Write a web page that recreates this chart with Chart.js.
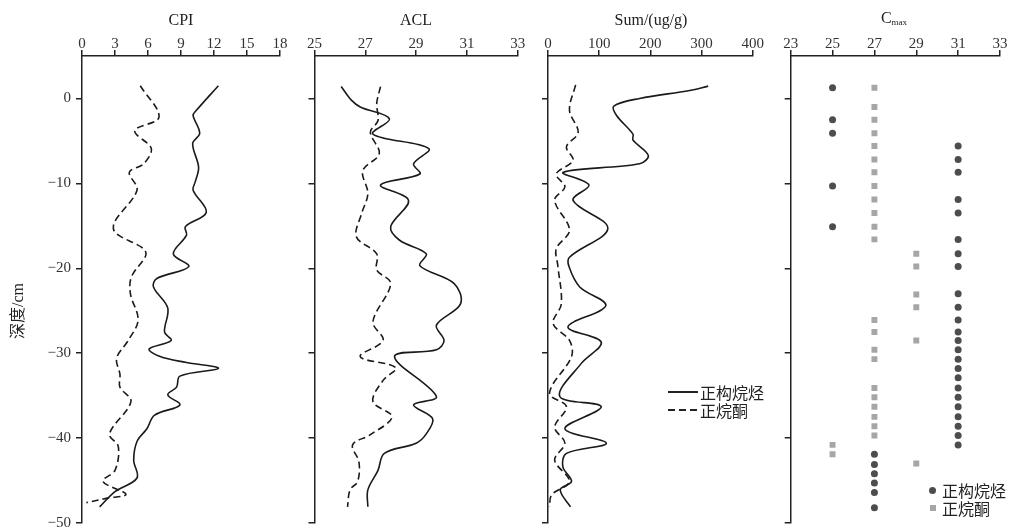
<!DOCTYPE html>
<html>
<head>
<meta charset="utf-8">
<script src="https://cdn.jsdelivr.net/npm/chart.js@4.4.0/dist/chart.umd.min.js"></script>
<style>
  body { margin:0; width:1010px; height:529px; overflow:hidden; background:#fff; position:relative;
         font-family:"Liberation Serif","Noto Sans CJK SC",serif; color:#222; }
  canvas { position:absolute; top:0; }
  .title { position:absolute; font-size:16px; line-height:18px; transform:translate(-50%,-50%); white-space:nowrap; }
  .lab { position:absolute; font-family:"Noto Sans CJK SC",sans-serif; font-size:16px; line-height:20px; white-space:nowrap; color:#222; }
  .key { position:absolute; }
</style>
</head>
<body>
<canvas id="c1" width="290" height="529" style="left:0"></canvas>
<canvas id="c2" width="240" height="529" style="left:290px"></canvas>
<canvas id="c3" width="240" height="529" style="left:530px"></canvas>
<canvas id="c4" width="240" height="529" style="left:770px"></canvas>

<div class="title" style="left:181px;top:20px">CPI</div>
<div class="title" style="left:416px;top:20px">ACL</div>
<div class="title" style="left:651px;top:20px">Sum/(ug/g)</div>
<div class="title" style="left:894px;top:20px">C<span style="font-size:9px;vertical-align:-2px">max</span></div>
<div class="title" style="left:18px;top:311px;transform:translate(-50%,-50%) rotate(-90deg)">深度/cm</div>

<!-- legend, panel 3 -->
<div class="key" style="left:668px;top:391px;width:30px;height:1.5px;background:#222"></div>
<div class="lab" style="left:700px;top:382px">正构烷烃</div>
<div class="key" style="left:668px;top:409px;width:30px;height:1.5px;background:repeating-linear-gradient(90deg,#222 0 7px,transparent 7px 11px)"></div>
<div class="lab" style="left:700px;top:400px">正烷酮</div>
<!-- legend, panel 4 -->
<div class="key" style="left:929px;top:486.5px;width:7px;height:7px;border-radius:50%;background:#4d4d4d"></div>
<div class="lab" style="left:942px;top:480px">正构烷烃</div>
<div class="key" style="left:930px;top:505px;width:6px;height:6px;background:#a6a6a6"></div>
<div class="lab" style="left:942px;top:498px">正烷酮</div>

<script>
// tick labels
const depthTicks = [0, -10, -20, -30, -40, -50];
const cpiTicks = [0, 3, 6, 9, 12, 15, 18];
const aclTicks = [25, 27, 29, 31, 33];
const sumTicks = [0, 100, 200, 300, 400];
const cmaxTicks = [23, 25, 27, 29, 31, 33];

// CPI
const cpiAlkDepth = [1.5, -1.4, -2, -4.1, -5.3, -8.1, -9.8, -10.8, -13.4, -15.1, -16.1, -18.3, -19.8, -21.2, -22.2, -24.7, -27.5, -28.5, -29.5, -30.4, -31.1, -31.8, -32.7, -34.0, -34.9, -36.1, -37.3, -38.9, -40.4, -42.6, -44.7, -46.3, -48.1];
const cpiAlk      = [12.4, 10.4, 10.1, 10.7, 10.06, 10.6, 10.3, 10.1, 11.3, 9.4, 9.5, 8.3, 9.7, 6.8, 6.5, 7.8, 7.5, 8.1, 6.1, 7.1, 9.5, 12.4, 8.9, 8.6, 7.8, 8.9, 6.6, 5.9, 5.0, 4.7, 5.0, 3.0, 1.6];
const cpiKetDepth = [1.5, -2.2, -3.8, -5.9, -7.7, -8.7, -10.8, -15.3, -17.7, -18.5, -21, -23, -26.1, -28.5, -30.6, -32.5, -34.0, -35.7, -39.5, -41, -43.8, -45.1, -46.6, -47.1, -47.6];
const cpiKet      = [5.3, 7.0, 4.8, 6.3, 5.6, 4.3, 5.0, 2.85, 5.6, 5.8, 4.5, 4.4, 5.1, 4.2, 3.15, 3.45, 3.45, 4.45, 2.5, 3.3, 3.0, 1.9, 4.0, 2.2, 0.4];

// ACL
const aclAlkDepth = [1.4, -0.2, -1.0, -2.4, -4.2, -5.9, -7.7, -8.9, -10.2, -12, -15.1, -16.7, -18.3, -19.7, -21.8, -24.2, -26.7, -28.5, -29.6, -30.4, -35.1, -36.1, -37.7, -39.5, -40.6, -41.8, -43.8, -46.1, -48.1];
const aclAlk      = [26.05, 26.45, 26.8, 27.95, 27.3, 29.5, 28.9, 29.15, 27.6, 28.7, 28.0, 28.35, 29.4, 29.15, 30.5, 30.75, 29.8, 30.1, 29.8, 28.15, 29.8, 28.9, 29.65, 29.4, 29.0, 27.75, 27.5, 27.1, 27.1];
const aclKetDepth = [1.4, -0.6, -2.6, -4.0, -6.5, -8.5, -11.2, -13.6, -16.3, -18.3, -20.2, -21.8, -26.3, -28.5, -30.4, -31.7, -33.2, -35.7, -37.5, -39.6, -40.8, -42.8, -45.1, -46.1, -48.1];
const aclKet      = [27.6, 27.45, 27.5, 27.2, 27.55, 26.9, 27.1, 26.85, 26.65, 27.45, 27.45, 28.0, 27.3, 27.7, 26.8, 28.2, 27.7, 27.3, 28.05, 27.2, 26.5, 26.75, 26.7, 26.4, 26.3];

// Sum (ug/g)
const sumAlkDepth = [1.45, 0.94, 0, -0.9, -2, -4.2, -4.9, -6.7, -7.7, -8.7, -10.2, -12, -15.3, -18.7, -19.8, -22.2, -24.4, -26.9, -28.7, -31.2, -35.1, -36.3, -38.9, -40.6, -41.8, -43.4, -45.1, -46.1, -48.1];
const sumAlk      = [313, 277, 179, 128.6, 134, 166, 166, 196, 179, 30, 80, 49, 117, 42, 41, 62, 113, 39, 104, 65, 23, 104, 33, 114, 36, 29, 46, 24, 44];
const sumKetDepth = [1.6, -1.4, -4.0, -5.7, -7.3, -8.9, -10.4, -12, -15.5, -17.7, -19.6, -24.2, -26.5, -28.5, -30.4, -34.7, -36.3, -38.7, -40.6, -42.6, -45.1, -46.7, -48.1];
const sumKet      = [54, 42, 59, 36, 49, 16, 33, 13, 42, 16, 19, 26, 10, 42, 46, 3, 36, 13, 33, 13, 42, 7, 3];

// Cmax
const cmaxAlkDepth = [1.25, -2.5, -4.1, -5.6, -7.2, -8.7, -10.3, -11.9, -13.5, -15.1, -16.6, -18.3, -19.8, -23.0, -24.6, -26.1, -27.5, -28.5, -29.6, -30.7, -31.8, -32.9, -34.1, -35.2, -36.3, -37.5, -38.6, -39.7, -40.8, -41.9, -43.1, -44.2, -45.3, -46.4, -48.2];
const cmaxAlk      = [25, 25, 25, 31, 31, 31, 25, 31, 31, 25, 31, 31, 31, 31, 31, 31, 31, 31, 31, 31, 31, 31, 31, 31, 31, 31, 31, 31, 31, 27, 27, 27, 27, 27, 27];
const cmaxKetDepth = [1.25, -1.0, -2.5, -4.1, -5.6, -7.2, -8.7, -10.3, -11.9, -13.5, -15.1, -16.6, -18.3, -19.8, -23.1, -24.6, -26.1, -27.5, -28.5, -29.6, -30.7, -34.1, -35.2, -36.3, -37.5, -38.6, -39.7, -40.8, -41.9, -43.0];
const cmaxKet      = [27, 27, 27, 27, 27, 27, 27, 27, 27, 27, 27, 27, 29, 29, 29, 29, 27, 27, 29, 27, 27, 27, 27, 27, 27, 27, 27, 25, 25, 29];

function pts(depths, vals) {
  return depths.map((d, i) => ({ x: vals[i], y: d }));
}

function curve(depths, vals, dashed) {
  return {
    data: pts(depths, vals),
    showLine: true,
    borderColor: '#1a1a1a',
    borderWidth: 1.6,
    borderDash: dashed ? [7, 4] : [],
    pointRadius: 0,
    tension: 0.35,
    fill: false
  };
}

const axisColor = '#222';
const tickFont = { family: 'Liberation Serif', size: 15 };

function panel(id, axisW, padRight, xTicks, datasets, showDepth) {
  new Chart(document.getElementById(id), {
    type: 'scatter',
    data: { datasets: datasets },
    options: {
      responsive: false,
      animation: false,
      devicePixelRatio: 1,
      layout: { padding: { left: 0, right: padRight, top: 0, bottom: 6 } },
      plugins: { legend: { display: false }, tooltip: { enabled: false } },
      scales: {
        x: {
          type: 'linear',
          position: 'top',
          min: xTicks[0],
          max: xTicks[xTicks.length - 1],
          afterBuildTicks: s => { s.ticks = xTicks.map(v => ({ value: v })); },
          afterFit: s => { s.height = 56; s.paddingLeft = 0; s.paddingRight = 0; },
          grid: { drawOnChartArea: false, drawTicks: true, tickLength: 6, color: axisColor, lineWidth: 1.5 },
          border: { color: axisColor, width: 1.5 },
          ticks: { color: '#333', font: tickFont, padding: -3, autoSkip: false, maxRotation: 0 }
        },
        y: {
          type: 'linear',
          min: -50,
          max: 5,
          afterBuildTicks: s => { s.ticks = depthTicks.map(v => ({ value: v })); },
          afterFit: s => { s.width = axisW; s.paddingTop = 0; s.paddingBottom = 0; },
          grid: { drawOnChartArea: false, drawTicks: true, tickLength: 6, color: axisColor, lineWidth: 1.5 },
          border: { color: axisColor, width: 1.5 },
          ticks: {
            color: '#333', font: tickFont, padding: 5, autoSkip: false,
            callback: v => showDepth ? (v < 0 ? '\u2212' + Math.abs(v) : String(v)) : ''
          }
        }
      }
    }
  });
}

panel('c1', 82, 10, cpiTicks, [curve(cpiAlkDepth, cpiAlk, false), curve(cpiKetDepth, cpiKet, true)], true);
panel('c2', 24.5, 12.3, aclTicks, [curve(aclAlkDepth, aclAlk, false), curve(aclKetDepth, aclKet, true)], false);
panel('c3', 18, 17.3, sumTicks, [curve(sumAlkDepth, sumAlk, false), curve(sumKetDepth, sumKet, true)], false);
panel('c4', 20.7, 10, cmaxTicks, [
  { data: pts(cmaxAlkDepth, cmaxAlk), pointStyle: 'circle', pointRadius: 3.5, backgroundColor: '#4d4d4d', borderWidth: 0 },
  { data: pts(cmaxKetDepth, cmaxKet), pointStyle: 'rect', pointRadius: 4.2, backgroundColor: '#a6a6a6', borderWidth: 0 }
], false);
</script>
</body>
</html>
